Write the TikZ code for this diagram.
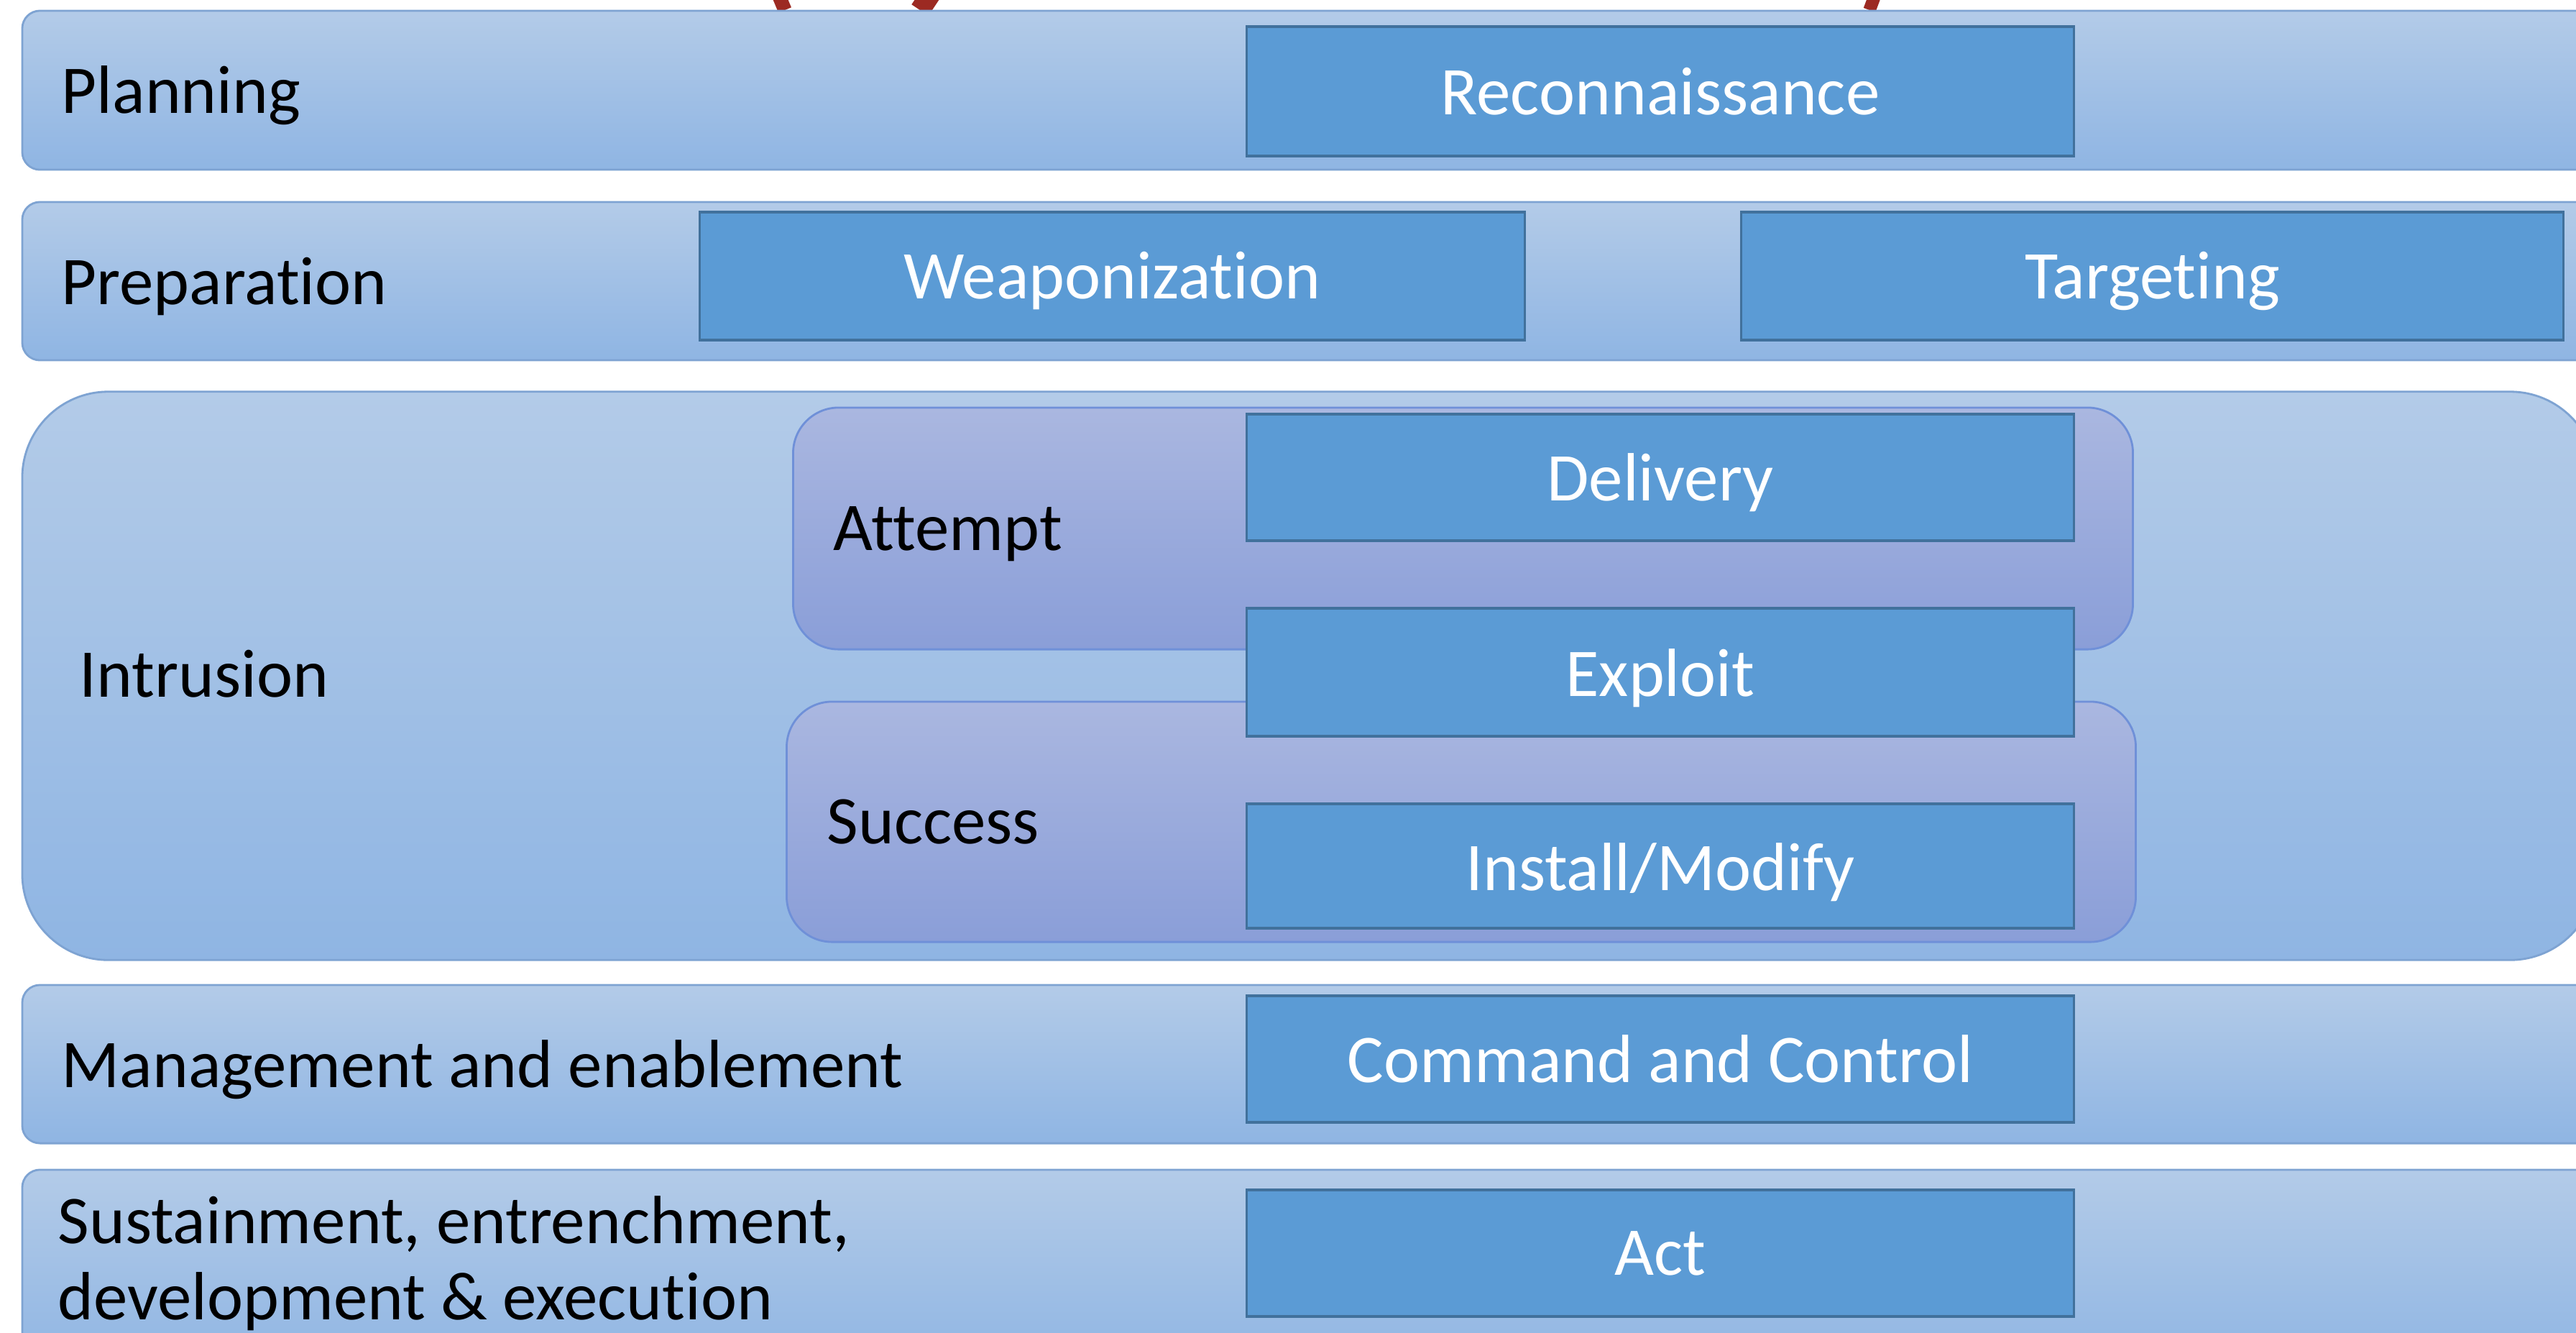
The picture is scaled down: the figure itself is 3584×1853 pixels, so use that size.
\documentclass[tikz,border=0pt]{standalone}
\usepackage{fontspec}
\setmainfont{Carlito}[Ligatures=NoCommon]
\definecolor{bandtop}{HTML}{B3CBE8}
\definecolor{bandbot}{HTML}{8FB5E3}
\definecolor{bandline}{HTML}{7EA3D2}
\definecolor{stagefill}{HTML}{5B9BD5}
\definecolor{stageline}{HTML}{41719C}
\definecolor{subtop}{HTML}{AAB7E0}
\definecolor{subbot}{HTML}{8A9ED8}
\definecolor{subline}{HTML}{6F90D8}
\definecolor{titlered}{HTML}{9C2A22}
\begin{document}
\begin{tikzpicture}[x=0.01cm,y=-0.01cm,
  band/.style={draw=bandline,line width=0.8pt,rounded corners=#1,
    top color=bandtop,bottom color=bandbot,inner sep=0pt},
  phase/.style={draw=subline,line width=0.8pt,rounded corners=18pt,
    top color=subtop,bottom color=subbot,inner sep=0pt},
  stage/.style={draw=stageline,fill=stagefill,line width=1pt,text=white,
    font=\fontsize{27}{33}\selectfont,minimum width=11.5cm,minimum height=1.77cm},
  lbl/.style={anchor=west,inner sep=0pt,font=\fontsize{27}{33}\selectfont}]
\useasboundingbox (0,0) rectangle (3584,1853);
\clip (0,0) rectangle (3584,1853);
% remains of the cut-off title
\draw[titlered,line width=5.5pt] (1082,-10) -- (1092,14);
\draw[titlered,line width=8pt] (1296,-10) -- (1280,14);
\draw[titlered,line width=5pt] (2610,-10) -- (2601,14);
% bands
\node[band=7pt,minimum width=36.08cm,minimum height=2.21cm] (plan) at (1836,125.5) {};
\node[band=7pt,minimum width=36.08cm,minimum height=2.20cm] (prep) at (1836,391) {};
\node[band=34pt,minimum width=35.79cm,minimum height=7.90cm] (intr) at (1821.5,940) {};
\node[band=7pt,minimum width=36.08cm,minimum height=2.20cm] (mgmt) at (1836,1480) {};
\node[band=7pt,minimum width=36.08cm,minimum height=2.80cm] (sust) at (1836,1767) {};
% attempt / success
\node[phase,minimum width=18.63cm,minimum height=3.36cm] (attempt) at (2035.5,735) {};
\node[phase,minimum width=18.76cm,minimum height=3.34cm] (success) at (2033,1143) {};
% labels
\node[lbl] (planlbl) at (85,133) {Planning};
\node[lbl] (preplbl) at (85,398) {Preparation};
\node[lbl] (intrlbl) at (110,937) {Intrusion};
\node[lbl] (attlbl) at (1159,743) {Attempt};
\node[lbl] (suclbl) at (1150,1143) {Success};
\node[lbl] (mgmtlbl) at (85,1488) {Management and enablement};
\node[lbl,align=left,font=\fontsize{27}{30}\selectfont] (sustlbl) at (80,1757)
  {Sustainment, entrenchment,\\development \& execution};
% stages
\node[stage,minimum height=1.80cm] (recon) at (2310,127) {Reconnaissance};
\node[stage,minimum width=11.47cm,minimum height=1.78cm,text height=22.5pt] (weap) at (1547.5,384) {Weaponization};
\node[stage,minimum width=11.43cm,minimum height=1.78cm,text height=22.5pt] (targ) at (2994.5,384) {Targeting};
\node[stage,minimum height=1.76cm,text height=23pt] (deliv) at (2310,664) {Delivery};
\node[stage,minimum height=1.78cm,text height=23.5pt] (expl) at (2310,935) {Exploit};
\node[stage,minimum height=1.73cm,text height=23.5pt] (inst) at (2310,1204.5) {Install/Modify};
\node[stage,minimum height=1.76cm] (cnc) at (2310,1473) {Command and Control};
\node[stage,minimum height=1.76cm] (act) at (2310,1743) {Act};
\end{tikzpicture}
\end{document}
